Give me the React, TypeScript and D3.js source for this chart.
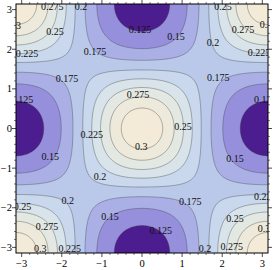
import React, { useMemo } from "react";
import * as d3 from "d3";

const W = 273;
const H = 270;

// contour levels and band colours (below first level ... above last level)
const LEVELS = [0.125, 0.15, 0.175, 0.2, 0.225, 0.25, 0.275, 0.3];
const BAND_COLORS = [
  "#4c1d8e",
  "#968fdc",
  "#aab0e6",
  "#bac8ea",
  "#c9d8ec",
  "#d8e3ea",
  "#e4e8e3",
  "#ede9db",
  "#f3ebd7",
];

const X_TICKS = [-3, -2, -1, 0, 1, 2, 3];
const Y_TICKS = [-3, -2, -1, 0, 1, 2, 3];

// plotted surface: value = SADDLE + AMP*g + CURV*g^2, g = cos(x)cos(y)
const FIELD_SADDLE = 0.19;
const FIELD_AMP = 0.1042;
const FIELD_CURV = 0.0257;

// contour labels (text, data x, data y)
const LABEL_TEXT = [
  "0.275", "0.2", "0.3", "0.25", "0.225", "0.175", "0.175", "0.125", "0.275", "0.225",
  "0.125", "0.15", "0.2", "0.225", "0.275", "0.3", "0.25", "0.175", "0.25", "0.125",
  "0.15", "0.2", "0.2", "0.25", "0.15", "0.275", "0.3", "0.225", "0.3", "0.15",
  "0.175", "0.225", "0.25", "0.3", "0.125", "0.2", "0.275",
];
const LABEL_X = [
  -2.24, -1.52, -3.17, -2.17, -2.87, -1.17, -1.87, -2.99, -0.1, -1.25,
  -0.05, 0.85, 1.77, 2.92, 2.52, 3.09, 2.02, 1.9, 1.02, 3.07,
  -2.29, -1.05, -1.85, -2.98, -0.8, -2.37, -2.54, -1.8, -0.02, 2.32,
  1.2, 3.07, 2.32, 3.04, 0.47, 1.57, 2.24,
];
const LABEL_Y = [
  3.07, 3.07, 2.59, 2.44, 1.89, 1.94, 1.26, 0.74, 0.86, -0.14,
  2.49, 2.32, 2.17, 1.91, 2.49, 2.62, 3.07, 1.29, 0.06, 0.74,
  -0.71, -1.21, -1.81, -1.96, -2.22, -2.47, -3.02, -3.02, -0.46, -0.76,
  -1.84, -1.71, -2.27, -2.52, -2.57, -3.02, -2.99,
];

const PLOT_L = 16;
const PLOT_R = 268;
const PLOT_T = 4;
const PLOT_B = 253;

function field(x: number, y: number) {
  const g = Math.cos(x) * Math.cos(y);
  return FIELD_SADDLE + FIELD_AMP * g + FIELD_CURV * g * g;
}

export default function App() {
  const xs = d3.scaleLinear().domain([-Math.PI, Math.PI]).range([PLOT_L, PLOT_R]);
  const ys = d3.scaleLinear().domain([-Math.PI, Math.PI]).range([PLOT_B, PLOT_T]);

  const { paths } = useMemo(() => {
    const n = 261;
    const lo = -3.4;
    const step = 6.8 / (n - 1);
    const values = new Array(n * n);
    for (let j = 0; j < n; j++) {
      for (let i = 0; i < n; i++) {
        values[j * n + i] = field(lo + i * step, lo + j * step);
      }
    }
    const cs = d3.contours().size([n, n]).thresholds(LEVELS)(values);
    const tr = d3.geoTransform({
      point(gx: number, gy: number) {
        (this as any).stream.point(xs(lo + (gx - 0.5) * step), ys(lo + (gy - 0.5) * step));
      },
    });
    const gp = d3.geoPath(tr as any);
    return { paths: cs.map((c) => gp(c as any) || "") };
  }, []);

  const minorTicks: number[] = [];
  for (let k = -16; k <= 16; k++) {
    const v = k / 5;
    if (Math.abs(v) <= Math.PI && k % 5 !== 0) minorTicks.push(v);
  }

  const font = "'Liberation Serif', 'Times New Roman', serif";

  return (
    <div style={{ position: "absolute", left: 0, top: 0 }}>
      <svg width={W} height={H} style={{ display: "block", background: "#fff" }}>
        <defs>
          <clipPath id="plotClip">
            <rect x={PLOT_L} y={PLOT_T} width={PLOT_R - PLOT_L} height={PLOT_B - PLOT_T} />
          </clipPath>
        </defs>
        <g clipPath="url(#plotClip)">
          <rect x={PLOT_L} y={PLOT_T} width={PLOT_R - PLOT_L} height={PLOT_B - PLOT_T} fill={BAND_COLORS[0]} />
          {paths.map((d, i) => (
            <path key={"f" + i} d={d} fill={BAND_COLORS[i + 1]} stroke="none" />
          ))}
          {paths.map((d, i) => (
            <path key={"s" + i} d={d} fill="none" stroke="rgba(60,60,60,0.55)" strokeWidth={0.7} />
          ))}
          {LABEL_TEXT.map((t, i) => (
            <text
              key={"l" + i}
              x={xs(LABEL_X[i])}
              y={ys(LABEL_Y[i])}
              textAnchor="middle"
              dominantBaseline="central"
              fontFamily={font}
              fontSize={10}
              fill="#111"
            >
              {t}
            </text>
          ))}
        </g>
        <rect
          x={PLOT_L}
          y={PLOT_T}
          width={PLOT_R - PLOT_L}
          height={PLOT_B - PLOT_T}
          fill="none"
          stroke="#000"
          strokeWidth={1}
        />
        {X_TICKS.map((v) => (
          <g key={"xt" + v}>
            <line x1={xs(v)} x2={xs(v)} y1={PLOT_B} y2={PLOT_B + 4} stroke="#000" strokeWidth={0.7} />
            <line x1={xs(v)} x2={xs(v)} y1={PLOT_T} y2={PLOT_T - 4} stroke="#000" strokeWidth={0.7} />
            <text
              x={xs(v)}
              y={PLOT_B + 14}
              textAnchor="middle"
              fontFamily={font}
              fontSize={10.5}
              fill="#000"
            >
              {v < 0 ? "\u2212" + Math.abs(v) : String(v)}
            </text>
          </g>
        ))}
        {Y_TICKS.map((v) => (
          <g key={"yt" + v}>
            <line x1={PLOT_L} x2={PLOT_L - 4} y1={ys(v)} y2={ys(v)} stroke="#000" strokeWidth={0.7} />
            <line x1={PLOT_R} x2={PLOT_R + 4} y1={ys(v)} y2={ys(v)} stroke="#000" strokeWidth={0.7} />
            <text
              x={PLOT_L - 4}
              y={ys(v)}
              textAnchor="end"
              dominantBaseline="central"
              fontFamily={font}
              fontSize={10.5}
              fill="#000"
            >
              {v < 0 ? "\u2212" + Math.abs(v) : String(v)}
            </text>
          </g>
        ))}
        {minorTicks.map((v) => (
          <g key={"mt" + v}>
            <line x1={xs(v)} x2={xs(v)} y1={PLOT_B} y2={PLOT_B + 2} stroke="#000" strokeWidth={0.5} />
            <line x1={xs(v)} x2={xs(v)} y1={PLOT_T} y2={PLOT_T - 2} stroke="#000" strokeWidth={0.5} />
            <line x1={PLOT_L} x2={PLOT_L - 2} y1={ys(v)} y2={ys(v)} stroke="#000" strokeWidth={0.5} />
            <line x1={PLOT_R} x2={PLOT_R + 2} y1={ys(v)} y2={ys(v)} stroke="#000" strokeWidth={0.5} />
          </g>
        ))}
      </svg>
    </div>
  );
}
